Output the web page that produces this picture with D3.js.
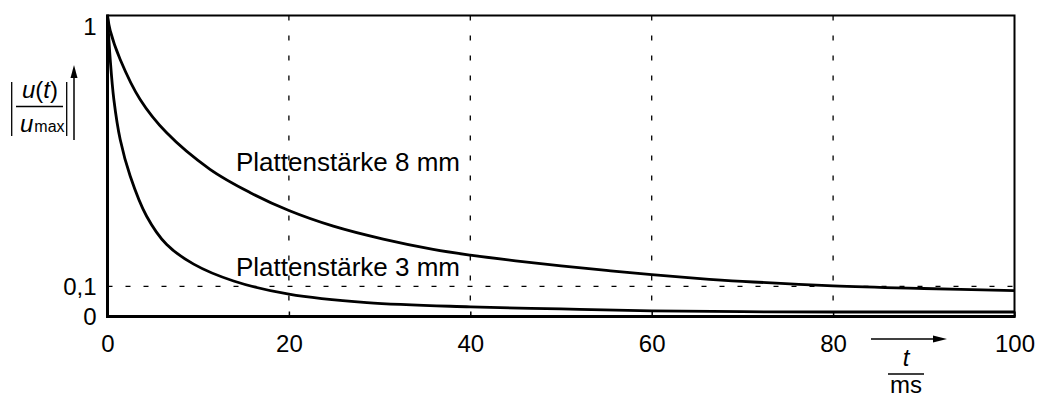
<!DOCTYPE html>
<html>
<head>
<meta charset="utf-8">
<script src="https://cdn.jsdelivr.net/npm/d3@7"></script>
<style>
  body { margin: 0; background: #fff; }
  text { font-family: "Liberation Sans", Arial, sans-serif; fill: #000; }
</style>
</head>
<body>
<div id="graph1"></div>
<script>
// readings, t in ms, values as |u(t)/umax|
var t8 = [0, 0.3, 1.4, 3.6, 6.5, 11.3, 15.7, 20, 24.9, 30.4, 35.9, 40, 45, 50, 55, 60, 65, 70, 80, 90, 100]
var v8 = [1, 0.95, 0.854, 0.721, 0.611, 0.489, 0.412, 0.352, 0.30, 0.257, 0.223, 0.204, 0.185, 0.168, 0.153, 0.139, 0.127, 0.117, 0.102, 0.093, 0.086]
var t3 = [0, 0.3, 0.7, 1.4, 2.5, 4.3, 6.5, 9.5, 13.9, 20, 28.6, 40, 50, 60, 70, 80, 90, 100]
var v3 = [1, 0.854, 0.721, 0.588, 0.467, 0.334, 0.24, 0.174, 0.118, 0.074, 0.046, 0.032, 0.025, 0.019, 0.016, 0.015, 0.015, 0.015]
var xTicks = [0, 20, 40, 60, 80, 100]
var yTicks = [0, 0.1, 1]
var labels = ["Plattenstärke 8 mm", "Plattenstärke 3 mm"]

var W = 1041, H = 396
var pLeft = 107.5, pRight = 1014.5, pTop = 15.5, pBottom = 316.5

var svg = d3.select("#graph1").append("svg")
  .attr("width", W).attr("height", H)

var x = d3.scaleLinear().domain([0, 100]).range([pLeft, pRight])
var y = d3.scaleLinear().domain([0, 1]).range([pBottom, pTop])

// dashed grid
svg.selectAll("vgrid")
  .data(xTicks.filter(function(d){ return d > 0 && d < 100 }))
  .enter().append("line")
    .attr("x1", function(d){ return x(d) }).attr("x2", function(d){ return x(d) })
    .attr("y1", pTop).attr("y2", pBottom)
    .style("stroke", "#000").style("stroke-width", 1.3)
    .style("stroke-dasharray", "5,15")
svg.append("line")
  .attr("x1", pLeft).attr("x2", pRight)
  .attr("y1", y(0.1)).attr("y2", y(0.1))
  .style("stroke", "#000").style("stroke-width", 1.3)
  .style("stroke-dasharray", "5,13")

// axes
var xAxis = svg.append("g")
  .attr("transform", "translate(0," + pBottom + ")")
  .call(d3.axisBottom(x).tickValues(xTicks).tickSizeInner(-5).tickSizeOuter(0).tickPadding(18))
var yAxis = svg.append("g")
  .attr("transform", "translate(" + pLeft + ",0)")
  .call(d3.axisLeft(y).tickValues(yTicks).tickSize(0).tickPadding(11)
    .tickFormat(function(d){ return d === 0.1 ? "0,1" : d }))
svg.selectAll(".domain").remove()
svg.selectAll(".tick text").style("font-size", "24px").style("font-family", '"Liberation Sans", Arial, sans-serif').attr("fill", "#000")
svg.selectAll(".tick line").style("stroke", "#000").style("stroke-width", 1.5)
yAxis.selectAll(".tick").filter(function(d){ return d === 1 }).select("text").attr("y", 11)

// frame
svg.append("rect")
  .attr("x", pLeft).attr("y", pTop).attr("width", pRight - pLeft).attr("height", pBottom - pTop)
  .style("fill", "none").style("stroke", "#000").style("stroke-width", 2)
svg.append("line").attr("x1", pLeft).attr("x2", pLeft).attr("y1", pTop - 1).attr("y2", pBottom + 1.5)
  .style("stroke", "#000").style("stroke-width", 3)
svg.append("line").attr("x1", pLeft).attr("x2", pRight + 1).attr("y1", pBottom).attr("y2", pBottom)
  .style("stroke", "#000").style("stroke-width", 3)

// curves
var line = d3.line()
  .x(function(d){ return x(d[0]) })
  .y(function(d){ return y(d[1]) })
  .curve(d3.curveCatmullRom.alpha(0.5))
var series = [d3.zip(t8, v8), d3.zip(t3, v3)]
svg.selectAll("myPath")
  .data(series).enter()
  .append("path")
    .attr("d", line)
    .style("fill", "none").style("stroke", "#000").style("stroke-width", 2.8)

svg.selectAll("curveLabel")
  .data(labels).enter()
  .append("text")
    .attr("x", 236)
    .attr("y", function(d, i){ return i === 0 ? 171 : 276 })
    .style("font-size", "26px")
    .text(function(d){ return d })

// y label |u(t)/umax| with arrow
var yl = svg.append("g")
var num = yl.append("text").attr("x", 40).attr("y", 98).attr("text-anchor", "middle").style("font-size", "24px")
num.append("tspan").style("font-style", "italic").text("u")
num.append("tspan").text("(")
num.append("tspan").style("font-style", "italic").text("t")
num.append("tspan").text(")")
var den = yl.append("text").attr("x", 20).attr("y", 132)
den.append("tspan").style("font-style", "italic").style("font-size", "24px").text("u")
den.append("tspan").style("font-size", "16px").attr("dx", 1).text("max")
yl.append("line").attr("x1", 16).attr("x2", 63).attr("y1", 106.5).attr("y2", 106.5)
  .style("stroke", "#000").style("stroke-width", 1.3)
yl.selectAll("bar").data([11.7, 66.7]).enter().append("line")
  .attr("x1", function(d){ return d }).attr("x2", function(d){ return d })
  .attr("y1", 82).attr("y2", 136)
  .style("stroke", "#000").style("stroke-width", 1.3)
yl.append("line").attr("x1", 74).attr("x2", 74).attr("y1", 140).attr("y2", 76)
  .style("stroke", "#000").style("stroke-width", 1.5)
yl.append("path").attr("d", "M74,65 L70.5,78 L77.5,78 Z").style("fill", "#000")

// x label t/ms with arrow
var xl = svg.append("g")
xl.append("line").attr("x1", 871).attr("x2", 936).attr("y1", 339).attr("y2", 339)
  .style("stroke", "#000").style("stroke-width", 1.5)
xl.append("path").attr("d", "M947,339 L933,335.5 L933,342.5 Z").style("fill", "#000")
xl.append("text").attr("x", 906).attr("y", 366).attr("text-anchor", "middle")
  .style("font-size", "24px").style("font-style", "italic").text("t")
xl.append("line").attr("x1", 888).attr("x2", 924).attr("y1", 374).attr("y2", 374)
  .style("stroke", "#000").style("stroke-width", 1.3)
xl.append("text").attr("x", 906).attr("y", 393).attr("text-anchor", "middle")
  .style("font-size", "24px").text("ms")
</script>
</body>
</html>
